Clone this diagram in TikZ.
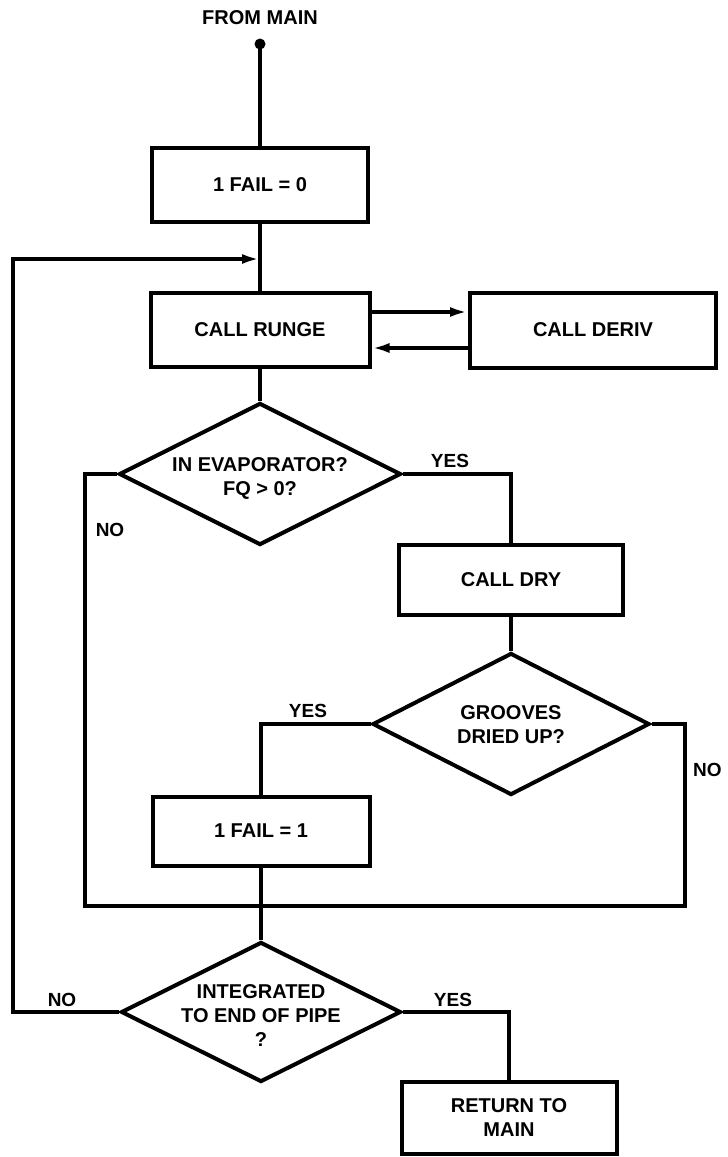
\documentclass[tikz,border=0pt]{standalone}
\usepackage{fontspec}
\setmainfont{Liberation Sans}
\usetikzlibrary{shapes.geometric,arrows.meta}
\tikzset{
  every node/.style={font=\fontsize{20}{24}\selectfont\bfseries},
  box/.style={draw, line width=4pt, rectangle, inner sep=0pt, align=center},
  dia/.style={draw, line width=4pt, diamond, inner sep=0pt},
  dtext/.style={align=center, inner sep=0pt},
  lbl/.style={inner sep=0pt, font=\fontsize{19}{22}\selectfont\bfseries},
  conn/.style={line width=4pt},
  arr/.style={line width=4pt, -{Latex[length=18pt,width=10pt]}}
}
\begin{document}
\begin{tikzpicture}[x=1pt,y=-1pt]
\useasboundingbox (0,0) rectangle (728,1157);

% top
\node (frommain) at (260,18) {FROM MAIN};
\coordinate (start) at (260,44);
\fill (start) circle (5.5);

\node[box, minimum width=216, minimum height=74] (fail0) at (260,185) {1 FAIL = 0};
\node[box, minimum width=219, minimum height=74] (runge) at (260,330) {CALL RUNGE};
\node[box, minimum width=246, minimum height=75] (deriv) at (593,330) {CALL DERIV};

\node[dia, minimum width=282, minimum height=142] (d1) at (260,474) {};
\node[dtext] (d1t) at (260,478) {IN EVAPORATOR?\\FQ > 0?};

\node[box, minimum width=224, minimum height=70] (dry) at (511,580) {CALL DRY};

\node[dia, minimum width=277, minimum height=142] (d2) at (511,724) {};
\node[dtext] (d2t) at (511,725) {GROOVES\\DRIED UP?};

\node[box, minimum width=217, minimum height=69] (fail1) at (261,831) {1 FAIL = 1};

\node[dia, minimum width=280, minimum height=140] (d3) at (261,1012) {};
\node[dtext] (d3t) at (261,1016) {INTEGRATED\\TO END OF PIPE\\?};

\node[box, minimum width=215, minimum height=72] (ret) at (509,1118) {RETURN TO\\MAIN};

% helper coordinates
\coordinate (lb) at (13,1012);
\coordinate (lj) at (260,259);
\coordinate (m1) at (85,474);
\coordinate (ml) at (85,906);
\coordinate (mr) at (685,906);
\coordinate (m2) at (685,724);

% connectors
\draw[conn] (start) -- (fail0.north);
\draw[conn] (fail0.south) -- (runge.north);
\draw[arr] (d3.west) -- (lb) |- (lj);
\draw[arr] ([yshift=18pt]runge.east) -- ([yshift=18pt]runge.east -| deriv.west);
\draw[arr] ([yshift=-18pt]deriv.west) -- ([yshift=-18pt]deriv.west -| runge.east);
\draw[conn] (runge.south) -- (d1.north);
\draw[conn] (d1.east) -| (dry.north);
\draw[conn] (dry.south) -- (d2.north);
\draw[conn] (d1.west) -- (m1) -- (ml) -- (mr) -- (m2) -- (d2.east);
\draw[conn] (d2.west) -| (fail1.north);
\draw[conn] (fail1.south) -- (d3.north);
\draw[conn] (d3.east) -| (ret.north);

% labels
\node[lbl] (yes1) at (450,461) {YES};
\node[lbl] (no1) at (110,530) {NO};
\node[lbl] (yes2) at (308,711) {YES};
\node[lbl, anchor=west] (no2) at (693,770) {NO};
\node[lbl] (no3) at (62,1000) {NO};
\node[lbl] (yes3) at (453,1000) {YES};
\end{tikzpicture}
\end{document}
